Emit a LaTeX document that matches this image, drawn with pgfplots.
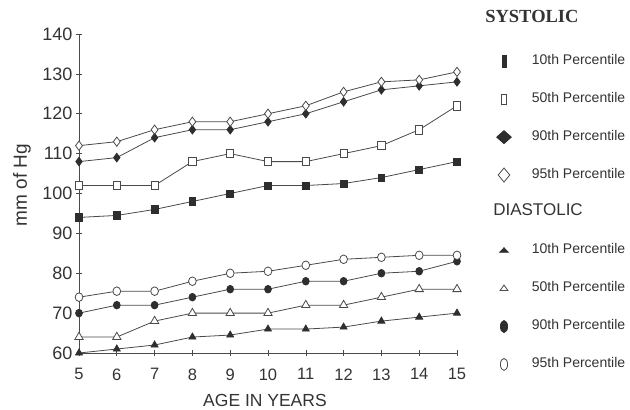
\documentclass[border=0pt]{standalone}
\usepackage{pgfplots}
\pgfplotsset{compat=1.18}
\usepackage{fontspec}
\setmainfont{Liberation Sans}
\newfontfamily\seriffont{Liberation Serif}
\definecolor{ink}{HTML}{333333}
\definecolor{ln}{HTML}{4A4A4A}
\definecolor{mk}{HTML}{2E2E2E}
\begin{document}
\begin{tikzpicture}
\useasboundingbox (-79pt,-57pt) rectangle (551pt,353pt);
\begin{axis}[
  at={(0,0)}, anchor=south west,
  width=378pt, height=319pt, scale only axis,
  xmin=5, xmax=15, ymin=60, ymax=140,
  clip=false,
  axis x line*=bottom, axis y line*=left,
  axis line style={-, ln, line width=0.8pt},
  xtick={5,...,15}, ytick={60,70,...,140},
  minor tick num=0,
  tick align=center, major tick length=6pt,
  tick style={ln, line width=0.6pt},
  /pgf/number format/assume math mode=true,
  x tick label style={font=\fontsize{16.5}{18}\selectfont, text=ink, yshift=-9pt},
  y tick label style={font=\fontsize{18}{20}\selectfont, text=ink},
  xlabel={AGE IN YEARS},
  xlabel style={at={(axis description cs:0.492,-0.149)}, anchor=center, font=\fontsize{17.5}{20}\selectfont, text=ink},
  ylabel={mm of Hg},
  ylabel style={at={(axis description cs:-0.151,0.527)}, anchor=center, rotate=0, font=\fontsize{19}{22}\selectfont, text=ink},
  every axis plot/.append style={ln, line width=0.8pt},
  legend image code/.code={\draw[#1] plot coordinates {(0pt,0pt)};},
  legend cell align=left,
  legend style={draw=none, fill=none, inner sep=0pt, outer sep=0pt,
    at={(axis description cs:1.105,1.058)}, anchor=north west,
    row sep=21.88pt, column sep=20.5pt,
    nodes={inner sep=0pt, text height=11pt, text depth=5pt, text=ink,
      font=\fontsize{14}{16}\selectfont}},
]
% Systolic
\addplot[mark=square*, mark size=3.6pt, mark options={fill=mk, draw=mk, xscale=0.95}, forget plot]
  coordinates {(5,94)(6,94.5)(7,96)(8,98)(9,100)(10,102)(11,102)(12,102.5)(13,104)(14,106)(15,108)};
\addplot[mark=square*, mark size=4.2pt, mark options={fill=white, draw=ln, xscale=0.85}, forget plot]
  coordinates {(5,102)(6,102)(7,102)(8,108)(9,110)(10,108)(11,108)(12,110)(13,112)(14,116)(15,122)};
\addplot[mark=diamond*, mark size=4.3pt, mark options={fill=mk, draw=mk}, forget plot]
  coordinates {(5,108)(6,109)(7,114)(8,116)(9,116)(10,118)(11,120)(12,123)(13,126)(14,127)(15,128)};
\addplot[mark=diamond*, mark size=4.6pt, mark options={fill=white, draw=ln}, forget plot]
  coordinates {(5,112)(6,113)(7,116)(8,118)(9,118)(10,120)(11,122)(12,125.5)(13,128)(14,128.5)(15,130.5)};
% Diastolic
\addplot[mark=triangle*, mark size=4pt, mark options={fill=mk, draw=mk}, forget plot]
  coordinates {(5,60)(6,61)(7,62)(8,64)(9,64.5)(10,66)(11,66)(12,66.5)(13,68)(14,69)(15,70)};
\addplot[mark=triangle*, mark size=4.8pt, mark options={fill=white, draw=ln}, forget plot]
  coordinates {(5,64)(6,64)(7,68)(8,70)(9,70)(10,70)(11,72)(12,72)(13,74)(14,76)(15,76)};
\addplot[mark=*, mark size=3.8pt, mark options={fill=mk, draw=mk, xscale=0.9}, forget plot]
  coordinates {(5,70)(6,72)(7,72)(8,74)(9,76)(10,76)(11,78)(12,78)(13,80)(14,80.5)(15,83)};
\addplot[mark=*, mark size=4.3pt, mark options={fill=white, draw=ln, xscale=0.9}, forget plot]
  coordinates {(5,74)(6,75.5)(7,75.5)(8,78)(9,80)(10,80.5)(11,82)(12,83.5)(13,84)(14,84.5)(15,84.5)};
% Legend
\addlegendimage{empty legend}
\addlegendentry{\makebox[0pt][l]{\hspace{-47pt}\raisebox{4pt}{\seriffont\bfseries\fontsize{18.5}{20}\selectfont SYSTOLIC}}}
\addlegendimage{only marks, mark=square*, mark size=4pt, mark options={fill=mk, draw=mk, xscale=0.5, yscale=1.6}}
\addlegendentry{10th Percentile}
\addlegendimage{only marks, mark=square*, mark size=4pt, mark options={fill=white, draw=ln, xscale=0.6, yscale=1.25}}
\addlegendentry{50th Percentile}
\addlegendimage{only marks, mark=diamond*, mark size=6.5pt, mark options={fill=mk, draw=mk, xscale=1.5}}
\addlegendentry{90th Percentile}
\addlegendimage{only marks, mark=diamond*, mark size=7pt, mark options={fill=white, draw=ln, xscale=1.1}}
\addlegendentry{95th Percentile}
\addlegendimage{empty legend}
\addlegendentry{\makebox[0pt][l]{\hspace{-39pt}\fontsize{17}{20}\selectfont DIASTOLIC}}
\addlegendimage{only marks, mark=triangle*, mark size=5pt, mark options={fill=mk, draw=mk, yscale=0.6}}
\addlegendentry{10th Percentile}
\addlegendimage{only marks, mark=triangle*, mark size=4.5pt, mark options={fill=white, draw=ln, yscale=0.8}}
\addlegendentry{50th Percentile}
\addlegendimage{only marks, mark=*, mark size=6pt, mark options={fill=mk, draw=mk, xscale=0.6}}
\addlegendentry{90th Percentile}
\addlegendimage{only marks, mark=*, mark size=6pt, mark options={fill=white, draw=ln, xscale=0.6}}
\addlegendentry{95th Percentile}
\end{axis}
\end{tikzpicture}
\end{document}
